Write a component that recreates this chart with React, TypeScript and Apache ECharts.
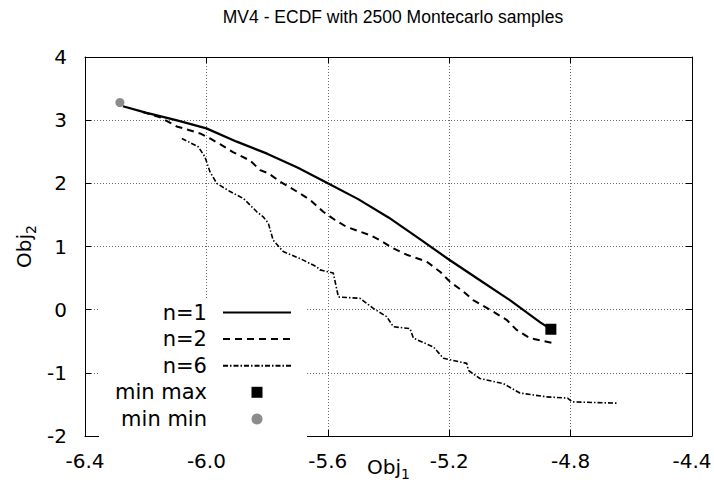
import React, { useEffect, useRef } from 'react';
import * as echarts from 'echarts';

const titleText = 'MV4 - ECDF with 2500 Montecarlo samples';

const n1X = [-6.275, -6.2, -6.1, -6.0, -5.9, -5.8, -5.7, -5.6, -5.5, -5.4, -5.3, -5.2, -5.1, -5.0, -4.9, -4.868];
const n1Y = [3.22, 3.12, 3.0, 2.87, 2.66, 2.47, 2.25, 2.0, 1.75, 1.46, 1.13, 0.79, 0.47, 0.15, -0.2, -0.3];

const n2X = [-6.21, -6.15, -6.098, -6.076, -6.021, -5.988, -5.955, -5.911, -5.856, -5.823, -5.796, -5.758, -5.702, -5.659, -5.615, -5.576, -5.538, -5.461, -5.428, -5.384, -5.34, -5.274, -5.23, -5.197, -5.154, -5.121, -5.066, -5.011, -4.978, -4.934, -4.857];
const n2Y = [3.13, 3.04, 2.9, 2.87, 2.79, 2.71, 2.62, 2.49, 2.36, 2.21, 2.16, 2.03, 1.87, 1.74, 1.55, 1.42, 1.31, 1.18, 1.1, 0.97, 0.87, 0.76, 0.6, 0.44, 0.29, 0.15, 0.0, -0.16, -0.32, -0.45, -0.53];

const n6X = [-6.081, -6.027, -6.005, -5.988, -5.966, -5.922, -5.878, -5.834, -5.813, -5.796, -5.78, -5.747, -5.692, -5.637, -5.626, -5.582, -5.565, -5.494, -5.45, -5.406, -5.384, -5.329, -5.318, -5.252, -5.219, -5.142, -5.137, -5.099, -5.022, -4.967, -4.88, -4.81, -4.795, -4.648];
const n6Y = [2.71, 2.58, 2.42, 2.18, 2.0, 1.87, 1.76, 1.55, 1.47, 1.37, 1.1, 0.92, 0.81, 0.68, 0.63, 0.58, 0.2, 0.18, 0.02, -0.11, -0.27, -0.3, -0.45, -0.59, -0.77, -0.85, -0.96, -1.09, -1.17, -1.32, -1.38, -1.4, -1.46, -1.48];

const minMaxPoint = [-4.865, -0.31];
const minMinPoint = [-6.285, 3.28];

const seriesNames = ['n=1', 'n=2', 'n=6', 'min max', 'min min'];

const xMin = -6.4;
const xMax = -4.4;
const xStep = 0.4;
const yMin = -2;
const yMax = 4;
const yStep = 1;

const FONT = '"DejaVu Sans", "Liberation Sans", Arial, sans-serif';
const TITLE_FONT = '"Liberation Sans Narrow", "Arial Narrow", "Liberation Sans", Arial, sans-serif';

const pairs = (xs: number[], ys: number[]) => xs.map((x, i) => [x, ys[i]]);

export default function App() {
  const ref = useRef<HTMLDivElement>(null);

  useEffect(() => {
    if (!ref.current) return;
    const chart = echarts.init(ref.current, undefined, { renderer: 'svg' });

    const gridLine = { show: true, lineStyle: { color: '#6a6a6a', width: 1, type: [1, 2] } };
    const axisLine = { show: true, onZero: false, lineStyle: { color: '#000', width: 1 } };
    const tick = { show: true, inside: true, length: 6, lineStyle: { color: '#000', width: 1 } };
    const nameRich = {
      a: { fontSize: 20, fontFamily: FONT, color: '#000', lineHeight: 22, verticalAlign: 'top' },
      b: { fontSize: 14, fontFamily: FONT, color: '#000', lineHeight: 16, padding: [10, 0, 0, 0], verticalAlign: 'top' },
    };
    const hiddenDot = { color: 'rgba(0,0,0,0)', borderWidth: 0 };

    const option: any = {
      animation: false,
      backgroundColor: '#fff',
      title: {
        text: titleText,
        left: 388,
        textAlign: 'center',
        top: 3,
        textStyle: { fontFamily: TITLE_FONT, fontSize: 17.5, fontWeight: 'normal', color: '#000' },
      },
      grid: { left: 85, right: 22, top: 57, bottom: 50, containLabel: false, outerBoundsMode: 'none' },
      legend: {
        orient: 'vertical',
        left: 99,
        top: 298,
        align: 'right',
        itemWidth: 68,
        itemHeight: 11,
        itemGap: 5.6,
        padding: [4, 15, 10, 8],
        backgroundColor: '#fff',
        data: [
          { name: seriesNames[0], itemStyle: hiddenDot },
          { name: seriesNames[1], itemStyle: hiddenDot },
          { name: seriesNames[2], itemStyle: hiddenDot },
          { name: seriesNames[3], icon: 'path://M0,0h10v10h-10z' },
          { name: seriesNames[4], icon: 'circle' },
        ],
        formatter: (name: string) => `{t|${name}}`,
        textStyle: {
          padding: [0, 11, 0, 0],
          rich: {
            t: { width: 100, align: 'right', fontSize: 21, lineHeight: 22, fontFamily: FONT, color: '#000' },
          },
        },
      },
      xAxis: [
        {
          type: 'value',
          position: 'bottom',
          min: xMin,
          max: xMax,
          interval: xStep,
          axisLine,
          axisTick: tick,
          splitLine: gridLine,
          axisLabel: {
            fontSize: 20,
            fontFamily: FONT,
            color: '#000',
            margin: 15,
            formatter: (v: number) => v.toFixed(1),
          },
          name: '{a|Obj}{b|1}',
          nameLocation: 'middle',
          nameGap: 21,
          nameMoveOverlap: false,
          nameTextStyle: { rich: nameRich },
        },
        {
          type: 'value',
          position: 'top',
          min: xMin,
          max: xMax,
          interval: xStep,
          axisLine,
          axisTick: tick,
          splitLine: { show: false },
          axisLabel: { show: false },
        },
      ],
      yAxis: [
        {
          type: 'value',
          position: 'left',
          min: yMin,
          max: yMax,
          interval: yStep,
          axisLine,
          axisTick: tick,
          splitLine: gridLine,
          axisLabel: { fontSize: 20, fontFamily: FONT, color: '#000', margin: 18 },
          name: '{a|Obj}{b|2}',
          nameLocation: 'middle',
          nameGap: 49,
          nameMoveOverlap: false,
          nameTextStyle: { rich: nameRich },
        },
        {
          type: 'value',
          position: 'right',
          min: yMin,
          max: yMax,
          interval: yStep,
          axisLine,
          axisTick: tick,
          splitLine: { show: false },
          axisLabel: { show: false },
        },
      ],
      series: [
        {
          name: seriesNames[0],
          type: 'line',
          data: pairs(n1X, n1Y),
          symbol: 'none',
          lineStyle: { color: '#000', width: 2.2, type: 'solid' },
          itemStyle: { color: '#000' },
          z: 3,
        },
        {
          name: seriesNames[1],
          type: 'line',
          data: pairs(n2X, n2Y),
          symbol: 'none',
          lineStyle: { color: '#000', width: 2, type: [7, 5] },
          itemStyle: { color: '#000' },
          z: 3,
        },
        {
          name: seriesNames[2],
          type: 'line',
          data: pairs(n6X, n6Y),
          symbol: 'none',
          lineStyle: { color: '#000', width: 1.6, type: [5, 2, 1.5, 2] },
          itemStyle: { color: '#000' },
          z: 3,
        },
        {
          name: seriesNames[3],
          type: 'scatter',
          data: [minMaxPoint],
          symbol: 'rect',
          symbolSize: 11,
          itemStyle: { color: '#000', opacity: 1 },
          z: 4,
        },
        {
          name: seriesNames[4],
          type: 'scatter',
          data: [minMinPoint],
          symbol: 'circle',
          symbolSize: 9,
          itemStyle: { color: '#8c8c8c', opacity: 1 },
          z: 4,
        },
      ],
    };

    chart.setOption(option);
    return () => chart.dispose();
  }, []);

  return (
    <div
      ref={ref}
      style={{ position: 'fixed', left: 0, top: 0, width: 714, height: 486, background: '#fff' }}
    />
  );
}
